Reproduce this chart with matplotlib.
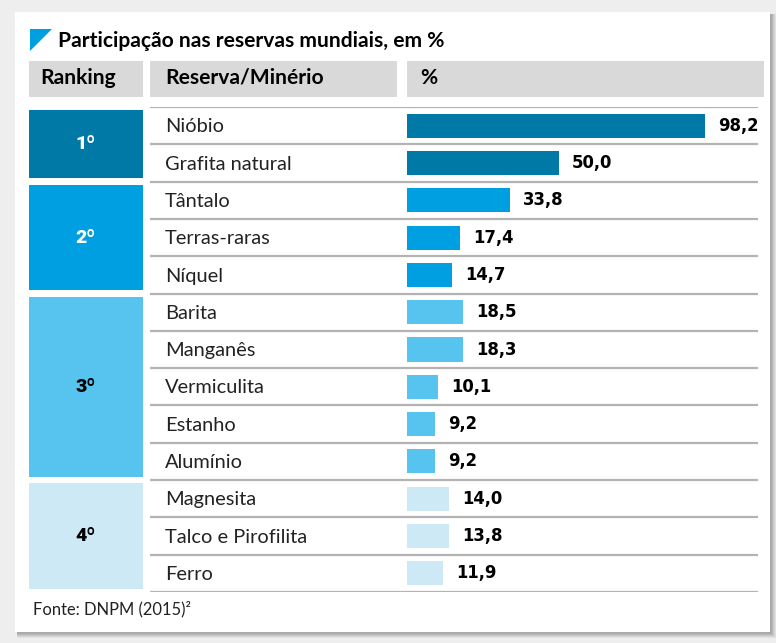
import numpy as np
import matplotlib.pyplot as plt
from matplotlib.patches import Rectangle, Polygon

W, H = 776, 643

# data
ranks = ['1º', '2º', '3º', '4º']
rank_sizes = [2, 3, 5, 3]
rank_colors = ['#0079a6', '#009fe1', '#57c4f0', '#cde9f6']
rank_text_colors = ['white', 'white', 'black', 'black']
minerals = ['Nióbio', 'Grafita natural', 'Tântalo', 'Terras-raras', 'Níquel',
            'Barita', 'Manganês', 'Vermiculita', 'Estanho', 'Alumínio',
            'Magnesita', 'Talco e Pirofilita', 'Ferro']
values = [98.2, 50.0, 33.8, 17.4, 14.7, 18.5, 18.3, 10.1, 9.2, 9.2, 14.0, 13.8, 11.9]

label_font = 'Lato'
num_font = 'DejaVu Sans'


def fx(x):
    return x / W


def fy(y):
    return 1 - y / H


def pt(px):
    return px * 72 / 100


fig = plt.figure(figsize=(W / 100, H / 100), dpi=100)
fig.patch.set_facecolor('#eeeeee')

# card with soft shadow
for i, a in enumerate([0.05, 0.05, 0.06, 0.07, 0.08]):
    d = 6 - i
    fig.patches.append(Rectangle((fx(15 + 2), fy(632 + d)), (755 + d - 2) / W, (620 + d - 2) / H,
                                 transform=fig.transFigure, color='black', alpha=a, lw=0,
                                 zorder=-10))
fig.patches.append(Rectangle((fx(15), fy(632)), 755 / W, 620 / H,
                             transform=fig.transFigure, color='white', lw=0, zorder=-9))

# title
fig.patches.append(Polygon([(fx(30), fy(29)), (fx(52), fy(29)), (fx(30), fy(51))],
                           closed=True, transform=fig.transFigure, color='#009fe1', lw=0))
fig.text(fx(58), fy(41), 'Participação nas reservas mundiais, em %', fontsize=pt(21),
         fontweight='bold', family=label_font, va='center', ha='left')

# header boxes
for x0, x1, txt, tx in [(29, 143, 'Ranking', 40), (150, 397, 'Reserva/Minério', 165),
                        (407, 764, '%', 420)]:
    fig.patches.append(Rectangle((fx(x0), fy(97)), (x1 - x0) / W, 36 / H,
                                 transform=fig.transFigure, color='#d9d9d9', lw=0, zorder=-8))
    fig.text(fx(tx), fy(78), txt, fontsize=pt(21), fontweight='bold', family=label_font,
             va='center', ha='left')

n = len(minerals)
top, bottom = 107, 592
rows = np.arange(n) + 0.5

# ranking blocks
ax_r = fig.add_axes([fx(29), fy(bottom), (143 - 29) / W, (bottom - top) / H])
ax_r.set_xlim(0, 1)
ax_r.set_ylim(n, 0)
ax_r.axis('off')
starts = np.concatenate([[0], np.cumsum(rank_sizes)[:-1]])
inset = 0.09
ax_r.barh(starts + np.array(rank_sizes) / 2, 1, height=np.array(rank_sizes) - 2 * inset,
          color=rank_colors, left=0)
for s, k, r, c in zip(starts, rank_sizes, ranks, rank_text_colors):
    ax_r.text(0.5, s + k / 2, r, ha='center', va='center', fontsize=pt(19.5),
              fontweight='black', family='Roboto', color=c)

# mineral labels + separator lines
ax_l = fig.add_axes([fx(150), fy(bottom), (758 - 150) / W, (bottom - top) / H])
ax_l.set_xlim(0, 1)
ax_l.set_ylim(n, 0)
ax_l.axis('off')
ax_l.hlines(np.arange(n + 1), 0, 1, color='#b3b3b3', lw=1.6)
for y, m in zip(rows, minerals):
    ax_l.text(15 / (758 - 150), y + 0.03, m, ha='left', va='center', fontsize=pt(20),
              family=label_font, color='#222222')

# bars
bar_colors = np.repeat(rank_colors, rank_sizes)
ax = fig.add_axes([fx(407), fy(bottom), (764 - 407) / W, (bottom - top) / H])
ax.set_ylim(n, 0)
ax.set_xlim(0, (764 - 407) / 3.035)
ax.axis('off')
ax.barh(rows, values, height=24 / 37.3, color=bar_colors)
for y, v in zip(rows, values):
    ax.annotate(f'{v:.1f}'.replace('.', ','), (v, y), xytext=(9.5, 0), textcoords='offset points',
                ha='left', va='center', fontsize=pt(16.5), fontweight='bold',
                family=num_font, color='black')

fig.text(fx(33), fy(609), 'Fonte: DNPM (2015)²', fontsize=pt(16.5), family=label_font,
         va='center', ha='left', color='#222222')

fig.savefig('out.png', dpi=100, facecolor=fig.get_facecolor())
